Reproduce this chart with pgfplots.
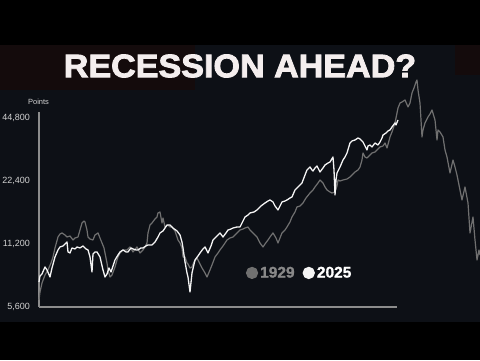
\documentclass[border=0pt]{standalone}
\usepackage{pgfplots}
\pgfplotsset{compat=1.18}
\usepackage{fontspec}
\setmainfont{Liberation Sans}
\newfontfamily\heavyfont{Liberation Sans}[BoldFeatures={FakeBold=2.5}]
\newfontfamily\legfont{Liberation Sans}[BoldFeatures={FakeBold=1.2}]
\definecolor{bgc}{HTML}{0D1016}
\definecolor{redbg}{HTML}{140B0C}
\definecolor{grayline}{HTML}{707070}
\definecolor{whiteline}{HTML}{F4F4F4}
\definecolor{axc}{HTML}{8C8C8C}
\definecolor{tickc}{HTML}{D2D2D2}
\definecolor{titlec}{HTML}{F4EEEE}
\definecolor{leg1929}{HTML}{888888}
\begin{document}
\begin{tikzpicture}[x=1pt,y=1pt]
\useasboundingbox (0,0) rectangle (480,360);
\fill[black] (0,0) rectangle (480,360);
\fill[bgc] (0,38) rectangle (480,315);
\fill[redbg] (0,270) rectangle (195,315);
\fill[redbg] (455,285) rectangle (480,315);
\begin{axis}[
  at={(39pt,53pt)}, anchor=south west,
  scale only axis, width=441pt, height=262pt,
  xmin=39, xmax=480, ymode=log, ymin=5600, ymax=100000,
  axis line style={draw=none},
  xtick=\empty, ytick={5600,11200,22400,44800},
  yticklabels={{5,600},{11,200},{22,400},{44,800}},
  major tick length=0pt,
  yticklabel style={font=\fontsize{9}{9}\selectfont, text=tickc, inner sep=0pt, anchor=east, xshift=-9pt},
  clip=false,
  legend style={at={(0.462,0.13)}, anchor=west, draw=none, fill=none, legend columns=2,
    font=\legfont\fontsize{15.5}{15.5}\selectfont\bfseries,
    /tikz/every even column/.append style={column sep=6pt}},
  legend image code/.code={\fill[#1] (5.5pt,0pt) circle (5.5pt);},
]
\draw[axc, line width=1.2pt] (axis cs:39,5600) -- (axis cs:397,5600);
\draw[axc, line width=1.2pt] (axis cs:39,5600) -- (axis cs:39,47850);
\addplot[grayline, line width=1.2pt, line join=round] coordinates {
(39,6048)(40,6602)(42,7291)(45,7963)(48,8417)(51,9089)(53,9710)(55,10724)(58,12096)(60,12499)
(62,12644)(65,12365)(67,12096)(70,12230)(73,11704)(75,11962)(78,12096)(80,13059)(82,14112)(84,14426)
(85,14269)(87,13059)(88,12096)(90,11827)(93,11704)(95,12365)(98,12644)(100,11962)(102,11323)(104,10724)
(105,10147)(107,9089)(108,8417)(110,7790)(112,7963)(115,8697)(117,9397)(118,9710)(120,10147)(123,10489)
(127,10489)(130,10842)(133,10259)(137,10842)(140,10147)(143,10489)(145,10842)(147,11323)(148,12644)(150,13798)
(152,14112)(155,14750)(157,15075)(158,15758)(160,15926)(162,14112)(163,14907)(165,13507)(168,13798)(170,13507)
(172,13507)(175,12925)(178,11704)(180,11323)(182,10724)(183,9710)(185,9710)(187,9089)(188,8988)(190,8602)
(192,8697)(194,9190)(197,9604)(199,9190)(202,8602)(205,8142)(207,7790)(210,8417)(212,8893)(215,9710)
(218,10147)(220,10489)(223,10959)(227,11704)(230,11962)(233,12096)(237,12644)(240,13059)(243,13205)(245,13350)
(248,13507)(250,13059)(253,12644)(255,12365)(257,12096)(260,11323)(263,10842)(265,11200)(268,11704)(270,12096)
(273,12644)(276,11962)(278,11323)(280,11962)(282,12644)(285,13059)(287,13507)(290,14269)(292,15075)(295,15926)
(297,16834)(300,17013)(303,17584)(306,18581)(310,19634)(313,20294)(315,20978)(318,21918)(320,22646)(322,22165)
(323,21918)(325,20978)(327,20294)(330,19846)(332,19634)(335,19846)(337,21213)(338,22646)(340,22400)(343,22646)
(347,22893)(350,23408)(353,24192)(355,24730)(358,25290)(360,26118)(362,28224)(363,30486)(365,29165)(367,28851)
(370,29814)(372,30486)(375,30822)(377,31517)(380,32570)(383,32928)(385,34026)(387,32211)(390,36355)(392,38416)
(395,42426)(398,49997)(400,52819)(402,53402)(405,54611)(408,50579)(410,52819)(412,59002)(414,62317)(416,66573)
(417,68051)(418,60973)(420,52819)(422,36355)(423,39267)(425,42426)(428,45293)(430,46816)(432,48922)(435,43837)
(437,35168)(438,39267)(440,38416)(443,36355)(445,31517)(447,29165)(450,24461)(453,28224)(455,26118)(457,23923)
(460,20294)(462,18178)(465,20978)(468,17584)(470,12644)(473,15075)(475,11704)(477,9397)(479,10489)(480,9923)
};
\addlegendentry{\textcolor{leg1929}{1929}}
\addplot[whiteline, line width=1.3pt, line join=round] coordinates {
(39,7375)(40,7879)(42,8053)(45,8697)(47,8417)(50,7790)(52,8602)(55,9710)(58,10489)(60,10842)
(63,10959)(67,11448)(68,10259)(70,10147)(72,10724)(75,10606)(77,10842)(80,10724)(83,10959)(86,10606)
(88,10489)(90,9710)(92,8232)(93,10035)(95,10259)(97,10259)(100,9710)(103,8417)(105,7790)(107,8053)
(109,8602)(111,8232)(113,8792)(115,9397)(118,9923)(120,10259)(123,10489)(126,10259)(128,10259)(131,10724)
(133,10606)(136,10489)(138,10489)(141,10724)(143,10724)(146,10959)(148,11082)(152,11082)(155,11448)(158,12096)
(160,12644)(163,12925)(165,13350)(167,13798)(170,13798)(173,13350)(177,12925)(180,12365)(182,11448)(183,10724)
(185,9190)(187,8142)(188,7790)(190,6602)(192,8142)(195,9397)(198,9817)(200,10147)(203,10606)(205,10842)
(208,10147)(211,10959)(213,11704)(217,12230)(220,12644)(223,12096)(226,12644)(228,13059)(231,13205)(233,13350)
(237,13507)(240,13507)(243,14426)(245,15075)(248,15411)(250,15758)(254,15926)(257,16285)(261,17013)(265,17584)
(268,17976)(270,18178)(273,17786)(275,17013)(278,16285)(280,17013)(282,17786)(285,17976)(287,18178)(290,18581)
(292,18794)(295,20294)(298,20978)(302,21918)(305,23923)(307,25290)(309,25850)(310,26118)(312,25290)(313,24998)
(315,25850)(317,26410)(320,24730)(323,25850)(325,26701)(328,27306)(330,27597)(333,29165)(334,25290)(335,19208)
(336,22646)(337,24461)(340,26118)(343,28224)(345,29165)(347,30486)(350,34026)(352,34787)(355,35168)(358,35952)
(360,35571)(363,34406)(365,32928)(367,31517)(368,32928)(370,33286)(372,32570)(375,34026)(378,33286)(380,34406)
(382,35952)(383,37162)(386,37990)(388,38842)(390,39267)(392,40589)(395,42426)(396,41485)(398,43837)
};
\addlegendentry{\textcolor{white}{2025}}
\end{axis}
\node[anchor=center, text=tickc, font=\fontsize{7.5}{7.5}\selectfont] at (38.5,258.5) {Points};
\node[anchor=center, text=titlec, font=\heavyfont\fontsize{31}{31}\selectfont\bfseries, xscale=1.1, yscale=1.05, inner sep=0pt] at (240,294) {RECESSION AHEAD?};
\end{tikzpicture}
\end{document}
